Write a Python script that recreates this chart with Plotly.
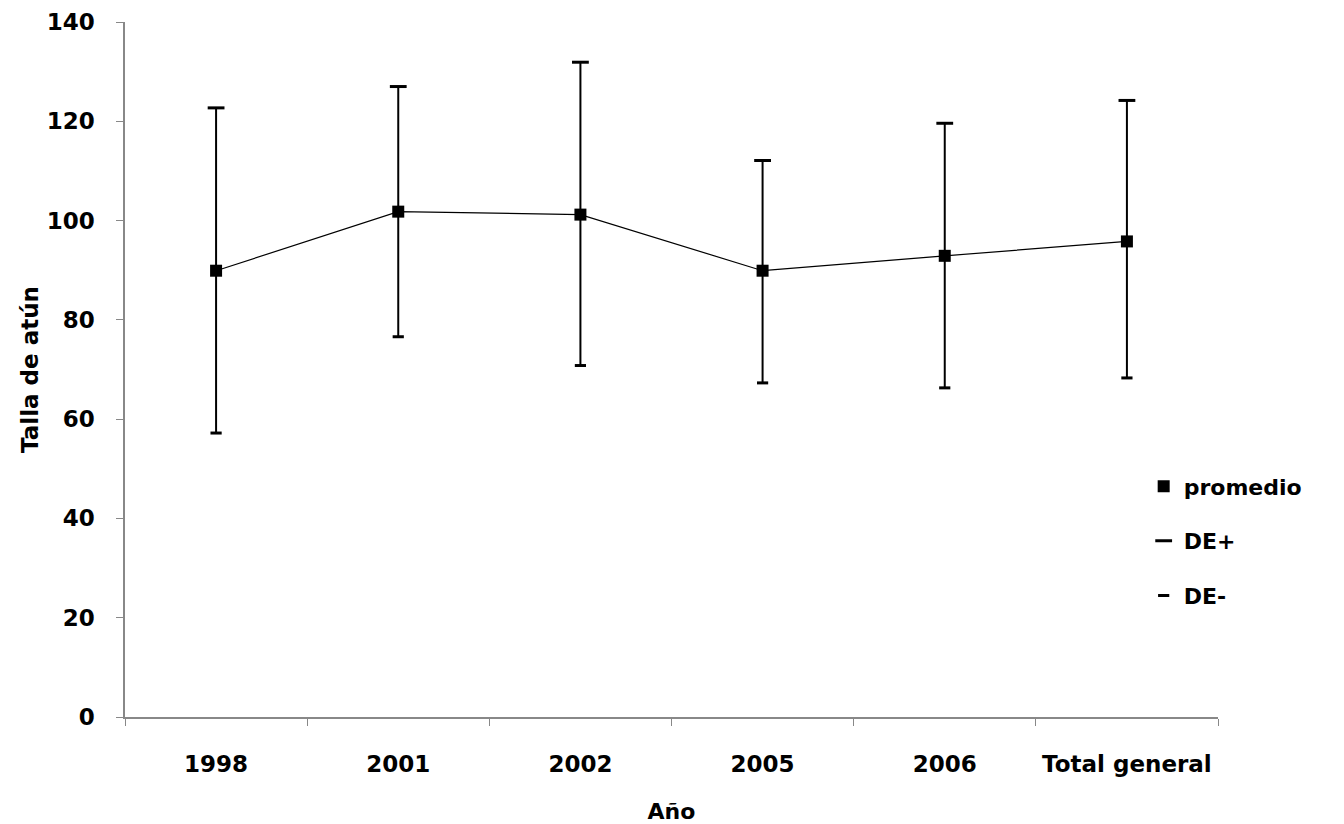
import plotly.graph_objects as go

categorias = ["1998", "2001", "2002", "2005", "2006", "Total general"]
promedio = [89.9, 101.8, 101.2, 89.9, 92.9, 95.8]
de_mas = [122.7, 127.0, 131.9, 112.1, 119.6, 124.2]
de_menos = [57.2, 76.6, 70.8, 67.3, 66.3, 68.3]

err_up = [a - m for a, m in zip(de_mas, promedio)]
err_dn = [m - b for b, m in zip(de_menos, promedio)]

FONT = "DejaVu Sans"

fig = go.Figure()
# connecting line (not in legend)
fig.add_trace(go.Scatter(
    x=categorias, y=promedio, mode="lines", showlegend=False,
    line=dict(color="black", width=1.2), hoverinfo="skip",
))
fig.add_trace(go.Scatter(
    x=categorias, y=promedio, name="promedio", mode="markers",
    marker=dict(symbol="square", size=12, color="black"),
    error_y=dict(type="data", symmetric=False, array=err_up, arrayminus=err_dn,
                 color="black", thickness=2, width=0),
    legendgroup="a",
))
fig.add_trace(go.Scatter(
    x=categorias, y=de_mas, name="DE+", mode="markers",
    marker=dict(symbol="line-ew", size=12, line=dict(color="black", width=3)),
    legendgroup="b",
))
fig.add_trace(go.Scatter(
    x=categorias, y=de_menos, name="DE-", mode="markers",
    marker=dict(symbol="line-ew", size=8, line=dict(color="black", width=3)),
    legendgroup="c",
))

fig.update_layout(
    width=1344, height=824,
    paper_bgcolor="white", plot_bgcolor="white",
    margin=dict(l=125, r=126, t=22, b=107),
    font=dict(family=FONT, size=22, color="black", weight="bold"),
    showlegend=True,
    legend=dict(x=0.932, y=0.362, xanchor="left", yanchor="top",
                font=dict(family=FONT, size=22, color="black", weight="bold"),
                tracegroupgap=23, itemwidth=30, bgcolor="rgba(0,0,0,0)"),
    xaxis=dict(
        title=dict(text="Año", font=dict(family=FONT, size=22, weight="bold"), standoff=27),
        showline=True, linecolor="#888", linewidth=1.5,
        ticks="outside", ticklen=7, tickcolor="#888",
        tickson="boundaries", showgrid=False, zeroline=False,
        range=[-0.5, 5.5], ticklabelstandoff=26, automargin=False,
        tickfont=dict(family=FONT, size=23, weight="bold"),
    ),
    yaxis=dict(
        title=dict(text="Talla de atún", font=dict(family=FONT, size=23, weight="bold"), standoff=2),
        range=[0, 140], dtick=20,
        showline=True, linecolor="#888", linewidth=1.5,
        ticks="outside", ticklen=7, tickcolor="#888",
        showgrid=False, zeroline=False, ticklabelstandoff=17, automargin=False,
        tickfont=dict(family=FONT, size=23, weight="bold"),
    ),
)

fig.write_html("out.html")
